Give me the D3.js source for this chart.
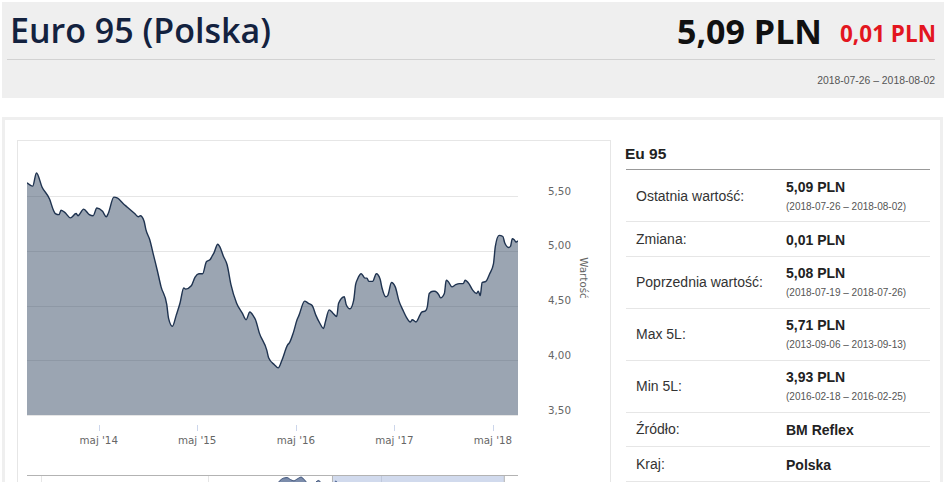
<!DOCTYPE html>
<html lang="pl">
<head>
<meta charset="UTF-8">
<title>Euro 95 (Polska)</title>
<style>
  body {
    margin: 0;
    width: 945px;
    height: 482px;
    overflow: hidden;
    position: relative;
    background: #fff;
    font-family: "Liberation Sans", Arial, sans-serif;
  }

  /* nagłówek */
  .header {
    position: absolute;
    left: 2px; top: 2px;
    width: 942px; height: 96px;
    background: #efefef;
  }
  .header-rule {
    position: absolute;
    left: 7px; top: 59px;
    width: 928px; height: 1px;
    background: #d2d2d2;
  }
  .title {
    position: absolute;
    left: 10px; top: 13px;
    font-family: "Open Sans", sans-serif;
    font-size: 34px; line-height: 34px;
    font-weight: 600;
    color: #13223f;
    white-space: nowrap;
  }
  .price {
    position: absolute;
    right: 123px; top: 14px;
    font-family: "Open Sans", sans-serif;
    font-size: 34px; line-height: 34px;
    font-weight: 700;
    color: #111;
    white-space: nowrap;
  }
  .change {
    position: absolute;
    right: 9px; top: 23px;
    font-family: "Open Sans", sans-serif;
    font-size: 22.5px; line-height: 22.5px;
    font-weight: 700;
    color: #e3161f;
    white-space: nowrap;
  }
  .period {
    position: absolute;
    right: 10px; top: 76px;
    font-size: 10.4px; line-height: 10.4px;
    color: #555;
    white-space: nowrap;
  }

  /* kontener treści */
  .box {
    position: absolute;
    left: 2px; top: 117px;
    width: 941px; height: 420px;
    border: 3px solid #efefef;
    box-sizing: border-box;
  }
  #chart {
    position: absolute;
    left: 17px; top: 140px;
  }

  /* tabela z informacjami */
  .info-title {
    position: absolute;
    left: 625px; top: 146px;
    font-size: 15.5px; line-height: 15.5px;
    font-weight: 700;
    color: #222;
  }
  #info {
    position: absolute;
    left: 626px; top: 169px;
    width: 304px;
    border-collapse: collapse;
    border-top: 1px solid #999;
  }
  #info td {
    padding: 0;
    border-bottom: 1px solid #e6e6e6;
    vertical-align: middle;
  }
  #info tr.two { height: 52px; }
  #info tr.one { height: 34.5px; }
  #info td.label {
    width: 150px;
    padding-left: 10px;
    font-size: 14px;
    color: #333;
  }
  #info .value {
    font-size: 14px; line-height: 20px;
    font-weight: 700;
    color: #222;
    padding-top: 2px;
  }
  #info .dates {
    font-size: 10px; line-height: 20px;
    color: #555;
  }

  .chart-text {
    font-family: "DejaVu Sans", sans-serif;
    font-size: 10.3px;
    fill: #666;
  }
</style>
</head>
<body>

  <div class="header"></div>
  <div class="header-rule"></div>
  <div class="title">Euro 95 (Polska)</div>
  <div class="price">5,09 PLN</div>
  <div class="change">0,01 PLN</div>
  <div class="period">2018-07-26 – 2018-08-02</div>

  <div class="box"></div>
  <svg id="chart" width="594" height="400"></svg>

  <div class="info-title">Eu 95</div>
  <table id="info"></table>

  <script src="https://cdnjs.cloudflare.com/ajax/libs/d3/7.8.5/d3.min.js"></script>
  <script>
    // --- dane (tygodniowe notowania) ---
    const priceDates = [
      "2013-08-08","2013-08-29","2013-09-12","2013-10-03","2013-10-31","2013-11-14","2013-11-21","2013-12-05",
      "2013-12-12","2013-12-26","2014-01-16","2014-02-06","2014-02-13","2014-03-06","2014-03-27","2014-04-10",
      "2014-04-24","2014-05-15","2014-05-29","2014-06-05","2014-06-26","2014-07-10","2014-07-31","2014-08-14",
      "2014-09-11","2014-09-25","2014-10-02","2014-10-16","2014-10-23","2014-11-06","2014-11-20","2014-12-04",
      "2014-12-18","2015-01-08","2015-01-15","2015-01-29","2015-02-12","2015-02-26","2015-03-12","2015-03-19",
      "2015-04-09","2015-04-23","2015-05-07","2015-05-21","2015-06-04","2015-06-18","2015-06-25","2015-07-02",
      "2015-07-16","2015-07-23","2015-08-06","2015-08-20","2015-09-03","2015-09-24","2015-10-15","2015-10-29",
      "2015-11-12","2015-11-26","2015-12-03","2015-12-17","2016-01-14","2016-01-21","2016-02-11","2016-02-25",
      "2016-03-10","2016-03-31","2016-04-07","2016-04-21","2016-05-05","2016-05-12","2016-06-02","2016-06-16",
      "2016-06-30","2016-07-14","2016-07-28","2016-08-11","2016-08-18","2016-09-01","2016-09-15","2016-09-29",
      "2016-10-06","2016-10-27","2016-11-03","2016-11-17","2016-12-01","2016-12-08","2016-12-15","2016-12-29",
      "2017-01-12","2017-01-19","2017-01-26","2017-02-09","2017-02-23","2017-03-09","2017-03-16","2017-03-30",
      "2017-04-06","2017-04-20","2017-05-04","2017-05-18","2017-06-01","2017-06-15","2017-06-29","2017-07-06",
      "2017-07-20","2017-08-03","2017-08-10","2017-08-24","2017-08-31","2017-09-07","2017-09-21","2017-09-28",
      "2017-10-12","2017-10-19","2017-11-02","2017-11-09","2017-11-16","2017-11-30","2017-12-14","2017-12-28",
      "2018-01-11","2018-01-18","2018-02-01","2018-02-15","2018-03-01","2018-03-08","2018-03-15","2018-03-22",
      "2018-04-05","2018-04-19","2018-05-03","2018-05-10","2018-05-24","2018-06-07","2018-06-14","2018-06-28",
      "2018-07-05","2018-07-12","2018-07-19","2018-07-26","2018-08-02"
    ];
    const prices = [
      5.62, 5.59, 5.71, 5.58, 5.47, 5.37, 5.34, 5.33,
      5.37, 5.35, 5.30, 5.34, 5.32, 5.38, 5.33, 5.32,
      5.39, 5.36, 5.31, 5.34, 5.49, 5.48, 5.43, 5.40,
      5.34, 5.31, 5.32, 5.27, 5.19, 5.10, 4.96, 4.82,
      4.67, 4.51, 4.38, 4.31, 4.41, 4.52, 4.66, 4.65,
      4.68, 4.76, 4.79, 4.79, 4.90, 4.92, 4.95, 4.98,
      5.06, 5.04, 4.95, 4.87, 4.69, 4.52, 4.43, 4.37,
      4.44, 4.40, 4.37, 4.25, 4.09, 4.02, 3.96, 3.93,
      4.00, 4.14, 4.16, 4.25, 4.37, 4.41, 4.54, 4.52,
      4.50, 4.41, 4.34, 4.29, 4.35, 4.46, 4.43, 4.40,
      4.52, 4.58, 4.51, 4.47, 4.55, 4.69, 4.74, 4.79,
      4.75, 4.75, 4.72, 4.72, 4.79, 4.74, 4.66, 4.58,
      4.59, 4.71, 4.67, 4.54, 4.46, 4.39, 4.35, 4.37,
      4.35, 4.41, 4.44, 4.45, 4.49, 4.61, 4.63, 4.63,
      4.60, 4.57, 4.61, 4.73, 4.72, 4.67, 4.69, 4.70,
      4.70, 4.73, 4.70, 4.64, 4.61, 4.63, 4.59, 4.71,
      4.72, 4.79, 4.88, 5.04, 5.14, 5.13, 5.07, 5.03,
      5.04, 5.11, 5.10, 5.08, 5.09
    ];

    // starsza historia widoczna tylko w nawigatorze
    const navDates = [
      "2004-10-01","2005-03-01","2005-09-01","2006-01-01","2006-08-01","2007-01-01","2007-08-01","2008-07-01",
      "2008-12-01","2009-06-01","2010-01-01","2010-06-01","2011-01-01","2011-04-01","2011-09-01","2012-01-01",
      "2012-02-01","2012-03-15","2012-04-15","2012-05-20","2012-06-25","2012-08-01","2012-09-10","2012-10-15",
      "2012-11-20","2013-01-01","2013-03-15","2013-05-01","2013-07-01"
    ];
    const navPrices = [
      4.10, 4.00, 4.45, 4.15, 4.55, 4.05, 4.40, 4.75,
      3.60, 4.30, 4.50, 4.75, 4.90, 5.35, 5.40, 5.55,
      5.75, 5.90, 5.92, 5.80, 5.72, 5.84, 5.95, 5.78,
      5.55, 5.45, 5.74, 5.45, 5.55
    ];

    const yTicks = [3.5, 4.0, 4.5, 5.0, 5.5];
    const xTickDates = ["2014-05-01", "2015-05-01", "2016-05-01", "2017-05-01", "2018-05-01"];
    const navTickDates = ["2005-03-01", "2010-01-01", "2015-01-01"];
    const yAxisTitle = "Wartość";

    const infoLabels = ["Ostatnia wartość:", "Zmiana:", "Poprzednia wartość:", "Max 5L:", "Min 5L:", "Źródło:", "Kraj:"];
    const infoValues = ["5,09 PLN", "0,01 PLN", "5,08 PLN", "5,71 PLN", "3,93 PLN", "BM Reflex", "Polska"];
    const infoPeriods = ["(2018-07-26 – 2018-08-02)", "", "(2018-07-19 – 2018-07-26)",
                         "(2013-09-06 – 2013-09-13)", "(2016-02-18 – 2016-02-25)", "", ""];

    // --- lokalizacja ---
    const plTime = d3.timeFormatLocale({
      dateTime: "%A, %e %B %Y, %X", date: "%d.%m.%Y", time: "%H:%M:%S", periods: ["AM", "PM"],
      days: ["niedziela","poniedziałek","wtorek","środa","czwartek","piątek","sobota"],
      shortDays: ["niedz.","pon.","wt.","śr.","czw.","pt.","sob."],
      months: ["styczeń","luty","marzec","kwiecień","maj","czerwiec","lipiec","sierpień","wrzesień","październik","listopad","grudzień"],
      shortMonths: ["sty","lut","mar","kwi","maj","cze","lip","sie","wrz","paź","lis","gru"]
    });
    const fmtTick = plTime.format("%b '%y");
    const fmtValue = d3.formatLocale({ decimal: ",", thousands: " ", grouping: [3], currency: ["", " zł"] }).format(".2f");
    const parse = d3.timeParse("%Y-%m-%d");

    const series = priceDates.map((d, i) => ({ date: parse(d), value: prices[i] }));
    const navSeries = navDates.map((d, i) => ({ date: parse(d), value: navPrices[i] })).concat(series);

    // --- wykres główny ---
    const svg = d3.select("#chart");
    const plot = { left: 10, right: 501, top: 0, bottom: 275 };

    svg.append("rect")
      .attr("x", 0.5).attr("y", 0.5)
      .attr("width", 593).attr("height", 420)
      .attr("fill", "#fff")
      .attr("stroke", "#e6e6e6");

    const x = d3.scaleTime()
      .domain([parse(priceDates[0]), parse(priceDates[priceDates.length - 1])])
      .range([plot.left, plot.right]);
    const y = d3.scaleLinear().domain([3.5, 5.5]).range([plot.bottom, 56]);

    svg.append("g")
      .selectAll("line")
      .data(yTicks)
      .join("line")
      .attr("x1", plot.left).attr("x2", plot.right)
      .attr("y1", d => Math.round(y(d)) + 0.5)
      .attr("y2", d => Math.round(y(d)) + 0.5)
      .attr("stroke", "#e6e6e6");

    svg.append("clipPath").attr("id", "plot-clip")
      .append("rect")
      .attr("x", plot.left).attr("y", plot.top)
      .attr("width", plot.right - plot.left).attr("height", plot.bottom - plot.top);

    const area = d3.area()
      .x(d => x(d.date)).y0(plot.bottom).y1(d => y(d.value))
      .curve(d3.curveMonotoneX);
    const line = d3.line()
      .x(d => x(d.date)).y(d => y(d.value))
      .curve(d3.curveMonotoneX);

    const g = svg.append("g").attr("clip-path", "url(#plot-clip)");
    g.append("path").datum(series)
      .attr("d", area)
      .attr("fill", "#2b3f5c")
      .attr("fill-opacity", 0.47);
    g.append("path").datum(series)
      .attr("d", line)
      .attr("fill", "none")
      .attr("stroke", "#1f3350")
      .attr("stroke-width", 1.4)
      .attr("stroke-linejoin", "round");

    // oś Y (po prawej stronie)
    svg.append("g")
      .selectAll("text")
      .data(yTicks)
      .join("text")
      .attr("class", "chart-text")
      .attr("x", 531)
      .attr("y", d => y(d) - 1.5)
      .text(d => fmtValue(d));

    svg.append("text")
      .attr("class", "chart-text")
      .attr("transform", "translate(562.5,138) rotate(90)")
      .attr("text-anchor", "middle")
      .text(yAxisTitle);

    // oś X
    const xTicks = xTickDates.map(parse);
    svg.append("g")
      .selectAll("line")
      .data(xTicks)
      .join("line")
      .attr("x1", d => Math.round(x(d)) + 0.5)
      .attr("x2", d => Math.round(x(d)) + 0.5)
      .attr("y1", 285).attr("y2", 291)
      .attr("stroke", "#ccd6eb");
    svg.append("g")
      .selectAll("text")
      .data(xTicks)
      .join("text")
      .attr("class", "chart-text")
      .attr("x", d => x(d))
      .attr("y", 304)
      .attr("text-anchor", "middle")
      .text(d => fmtTick(d));

    // --- nawigator ---
    const nav = { top: 335.5, bottom: 375.5 };
    const nx = d3.scaleTime()
      .domain([parse("2010-01-01"), parse("2015-01-01")])
      .range([191.3, 363.7]);
    const ny = d3.scaleLinear().domain([3.55, 6.05]).range([nav.bottom, nav.top]);

    svg.append("g")
      .selectAll("line")
      .data(navTickDates.map(parse))
      .join("line")
      .attr("x1", d => Math.round(nx(d)) + 0.5)
      .attr("x2", d => Math.round(nx(d)) + 0.5)
      .attr("y1", nav.top).attr("y2", nav.bottom)
      .attr("stroke", "#e6e6e6");

    svg.append("clipPath").attr("id", "nav-clip")
      .append("rect")
      .attr("x", plot.left).attr("y", nav.top)
      .attr("width", plot.right - plot.left).attr("height", nav.bottom - nav.top);

    const navArea = d3.area()
      .x(d => nx(d.date)).y0(nav.bottom).y1(d => ny(d.value))
      .curve(d3.curveMonotoneX);
    svg.append("path").datum(navSeries)
      .attr("clip-path", "url(#nav-clip)")
      .attr("d", navArea)
      .attr("fill", "#7b8cab")
      .attr("stroke", "#3d5278")
      .attr("stroke-width", 1);

    const maskL = nx(series[0].date);
    const maskR = nx(series[series.length - 1].date);
    svg.append("rect")
      .attr("x", maskL).attr("y", nav.top)
      .attr("width", maskR - maskL).attr("height", nav.bottom - nav.top)
      .attr("fill", "rgba(102,133,194,0.3)");

    svg.append("path")
      .attr("d", `M${plot.left},${nav.top}H${plot.right}M${maskL},${nav.top}V${nav.bottom}M${maskR},${nav.top}V${nav.bottom}`)
      .attr("fill", "none")
      .attr("stroke", "#b3b3b3");

    // --- tabela ---
    const rows = d3.select("#info")
      .selectAll("tr")
      .data(infoLabels)
      .join("tr")
      .attr("class", (d, i) => infoPeriods[i] ? "two" : "one");

    rows.append("td").attr("class", "label").text(d => d);
    const cell = rows.append("td");
    cell.append("div").attr("class", "value").text((d, i) => infoValues[i]);
    cell.filter((d, i) => infoPeriods[i])
      .append("div").attr("class", "dates").text(d => infoPeriods[infoLabels.indexOf(d)]);
  </script>
</body>
</html>
